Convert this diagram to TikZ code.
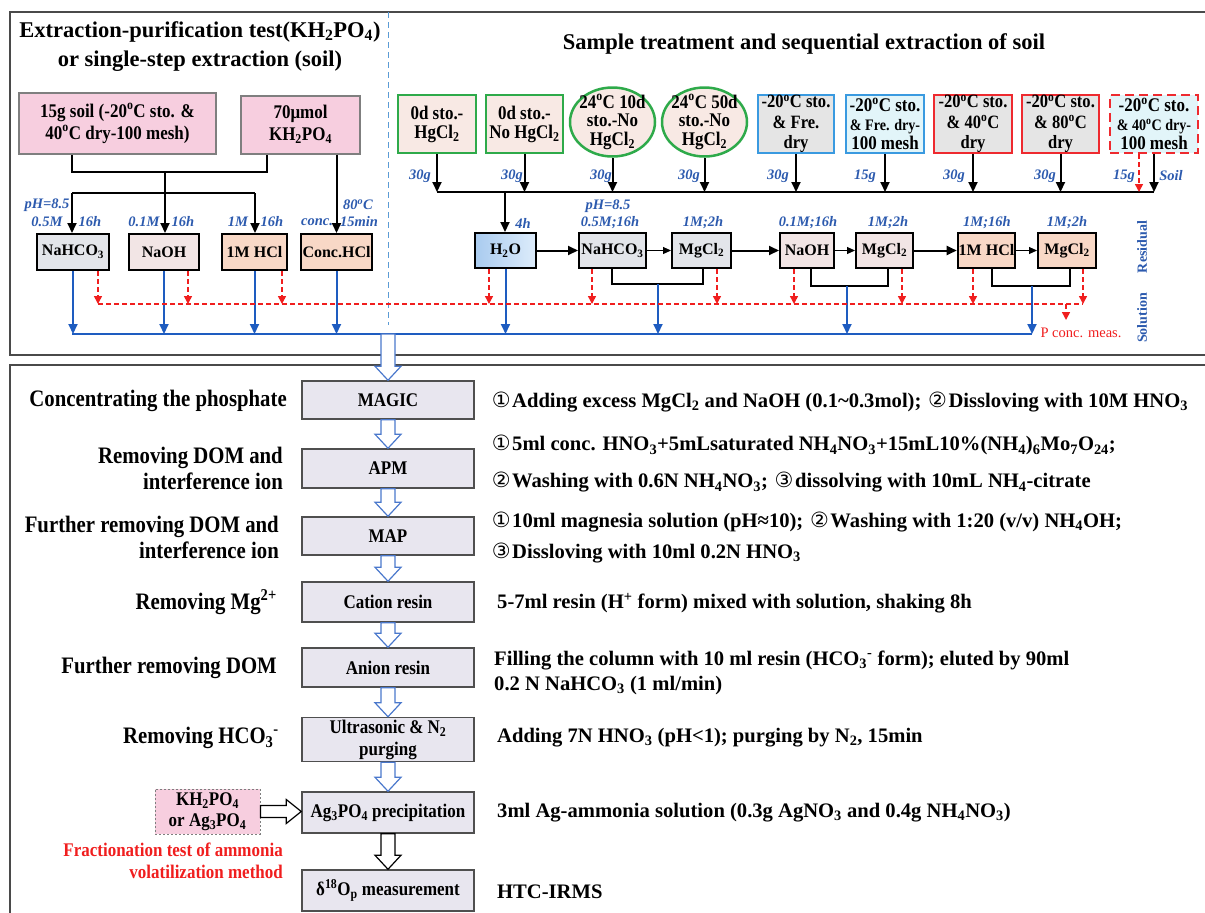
\documentclass[tikz,border=0pt]{standalone}
\usepackage{fontspec}
\setmainfont{Liberation Serif}
\newfontfamily\cnd{Liberation Serif}[FakeStretch=0.88]
\newfontfamily\symfont{DejaVu Sans}
\usetikzlibrary{arrows.meta,shapes.geometric,calc}
\newcommand\fsz[2]{\fontsize{#1}{#2}\selectfont}
\newcommand\dg{\textsuperscript{o}}
\newcommand\sbs[1]{\textsubscript{#1}}
\newcommand\cA{\makebox[22pt][c]{\symfont\mdseries\fsz{21}{20}①}}
\newcommand\cB{\makebox[22pt][c]{\symfont\mdseries\fsz{21}{20}②}}
\newcommand\cC{\makebox[22pt][c]{\symfont\mdseries\fsz{21}{20}③}}
\definecolor{pinkf}{HTML}{F7CEDF}
\definecolor{pinkd}{HTML}{7F7F7F}
\definecolor{gbord}{HTML}{2EAA4A}
\definecolor{gfill}{HTML}{F8E9E4}
\definecolor{bbord}{HTML}{3A9AE0}
\definecolor{grayf}{HTML}{E5E5E5}
\definecolor{cyanf}{HTML}{E2F5F9}
\definecolor{rbord}{HTML}{EE2A2F}
\definecolor{naf}{HTML}{E3E5EA}
\definecolor{ohf}{HTML}{F2E5E5}
\definecolor{hclf}{HTML}{F8D8C6}
\definecolor{h2oA}{HTML}{A9CBEF}
\definecolor{h2oB}{HTML}{DDECFB}
\definecolor{lblue}{HTML}{2C5AAE}
\definecolor{lineblue}{HTML}{1E5CC0}
\definecolor{redc}{HTML}{F01E1E}
\definecolor{panelc}{HTML}{4A4A4A}
\definecolor{boxf}{HTML}{E8E6EF}
\definecolor{boxd}{HTML}{4F4F4F}
\definecolor{harrow}{HTML}{4A78CC}
\definecolor{dashblue}{HTML}{5B9BD5}
\tikzset{
  panel/.style={draw=panelc, line width=1.6pt},
  titlet/.style={font=\bfseries\fsz{22.5}{24}, inner sep=0pt},
  pinkbox/.style={draw=pinkd, fill=pinkf, line width=2pt, align=center, inner sep=1pt, font=\cnd\bfseries\fsz{19.3}{22}},
  lrow/.style={draw=black, line width=2pt, minimum height=36pt, inner sep=1pt, font=\bfseries\fsz{16}{18}},
  mrow/.style={draw=black, line width=2pt, minimum height=35pt, inner sep=1pt, font=\bfseries\fsz{16}{18}},
  trbox/.style={line width=2.5pt, minimum height=58pt, inner sep=0pt, align=center, font=\cnd\bfseries\fsz{19.3}{19}},
  trbox3/.style={trbox, font=\cnd\bfseries\fsz{18.8}{20.5}},
  trell/.style={ellipse, line width=2.5pt, minimum width=85pt, minimum height=69pt, inner sep=-12pt, align=center, font=\cnd\bfseries\fsz{19.3}{18.5}},
  lbl/.style={font=\bfseries\itshape\fsz{14.5}{16}, text=lblue, inner sep=0pt},
  rotl/.style={font=\bfseries\fsz{14}{16}, text=lblue, inner sep=0pt, rotate=90},
  blk/.style={draw=black, line width=2pt},
  blkarr/.style={blk, -{Triangle[length=10pt,width=9pt]}},
  thinarr/.style={draw=black, line width=1pt, -{Triangle[length=8pt,width=7pt]}},
  blu/.style={draw=lineblue, line width=2pt},
  bluarr/.style={blu, -{Triangle[length=10pt,width=9pt]}},
  redln/.style={draw=redc, line width=1.5pt, dash pattern=on 5pt off 3pt},
  redarr/.style={redln, -{Triangle[length=8pt,width=8pt]}},
  botbox/.style={draw=boxd, fill=boxf, line width=1.5pt, minimum width=172pt, align=center, inner sep=1pt, font=\cnd\bfseries\fsz{19.3}{22}},
  leftl/.style={font=\cnd\bfseries\fsz{23.6}{26}, align=right, anchor=east, inner sep=0pt},
  rightt/.style={font=\bfseries\fsz{20.6}{25}, align=left, anchor=west, inner sep=0pt},
  hollowb/.style={draw=harrow, fill=white, line width=1.2pt},
  hollowk/.style={draw=black, fill=white, line width=1.2pt},
}
\newcommand\hdown[3]{%
  \draw[#1] let \p1=(#2), \p2=(#3) in
   (\x1-7pt,\y1) -- (\x1-7pt,\y2+14pt) -- (\x1-13pt,\y2+14pt) -- (\x1,\y2)
   -- (\x1+13pt,\y2+14pt) -- (\x1+7pt,\y2+14pt) -- (\x1+7pt,\y1) -- cycle;}
\newcommand\hright[3]{%
  \draw[#1] let \p1=(#2), \p2=(#3) in
   (\x1,\y1+6pt) -- (\x2-15pt,\y1+6pt) -- (\x2-15pt,\y1+12pt) -- (\x2,\y1)
   -- (\x2-15pt,\y1-12pt) -- (\x2-15pt,\y1-6pt) -- (\x1,\y1-6pt) -- cycle;}
\begin{document}
\begin{tikzpicture}[x=1pt,y=-1pt]
\useasboundingbox (0,0) rectangle (1205,913);
% ---------- panels ----------
\coordinate (p1) at (1212,12); \coordinate (p2) at (10,12);
\coordinate (p3) at (10,355); \coordinate (p4) at (1212,355);
\draw[panel] (p1) -- (p2) -- (p3) -- (p4);
\coordinate (q1) at (1212,365); \coordinate (q2) at (10,365); \coordinate (q3) at (10,920);
\draw[panel] (q1) -- (q2) -- (q3);
\coordinate (dv0) at (388,12); \coordinate (dv1) at (388,325);
\draw[draw=dashblue, line width=1pt, dash pattern=on 6pt off 4pt] (dv0) -- (dv1);
% ---------- titles ----------
\node[titlet] (t1) at (200,32) {Extraction-purification test(KH\sbs{2}PO\sbs{4})};
\node[titlet] (t2) at (200,61) {or single-step extraction (soil)};
\node[titlet] (t3) at (804,44) {Sample treatment and sequential extraction of soil};
% ---------- top-left ----------
\node[pinkbox, minimum width=197pt, minimum height=61pt] (soil) at (117.5,123.5) {15g soil (-20\dg C sto. \&\\40\dg C dry-100 mesh)};
\node[pinkbox, minimum width=119pt, minimum height=58pt] (kh) at (300.5,124.5) {70μmol\\KH\sbs{2}PO\sbs{4}};
\node[lrow, fill=naf, minimum width=72pt] (nahco3L) at (73,252) {NaHCO\sbs{3}};
\node[lrow, fill=ohf, minimum width=70pt] (naohL) at (164,252) {NaOH};
\node[lrow, fill=hclf, minimum width=65pt] (hclL) at (254.5,252) {1M HCl};
\node[lrow, fill=hclf, minimum width=71pt] (conchcl) at (336.5,252) {Conc.HCl};
\coordinate (tl1) at (72,172); \coordinate (tl2) at (267,172);
\coordinate (tl3) at (165,172); \coordinate (tl4) at (165,193);
\coordinate (tl5) at (72,193); \coordinate (tl6) at (255,193);
\draw[blk] (soil.south -| tl1) -- (tl1) -- (tl2) -- (kh.south -| tl2);
\draw[blk] (tl3) -- (tl4);
\draw[blk] (tl5) -- (tl6);
\draw[blkarr] (tl5) -- (nahco3L.north -| tl5);
\draw[blkarr] (tl4) -- (naohL.north -| tl4);
\draw[blkarr] (tl6) -- (hclL.north -| tl6);
\draw[blkarr] (kh.south -| conchcl.north) -- (conchcl.north);
\node[lbl] (la1) at (47,205) {pH=8.5};
\node[lbl] (la2) at (47,222) {0.5M};
\node[lbl] (la3) at (90,222) {16h};
\node[lbl] (la4) at (144,222) {0.1M};
\node[lbl] (la5) at (183,222) {16h};
\node[lbl] (la6) at (238,222) {1M};
\node[lbl] (la7) at (272,222) {16h};
\node[lbl] (la8) at (358,205) {80\dg C};
\node[lbl] (la9) at (317,222) {conc.};
\node[lbl] (la10) at (359,222) {15min};
% ---------- top-right sources ----------
\node[trbox, draw=gbord, fill=gfill, minimum width=78pt] (b1) at (437,124) {0d sto.-\\HgCl\sbs{2}};
\node[trbox, draw=gbord, fill=gfill, minimum width=77pt] (b2) at (524.5,124) {0d sto.-\\No HgCl\sbs{2}};
\node[trell, draw=gbord, fill=gfill] (e1) at (612.5,122) {24\dg C 10d\\sto.-No\\HgCl\sbs{2}};
\node[trell, draw=gbord, fill=gfill] (e2) at (704.5,122) {24\dg C 50d\\sto.-No\\HgCl\sbs{2}};
\node[trbox3, draw=bbord, fill=grayf, minimum width=76pt] (b5) at (796,124) {-20\dg C sto.\\\& Fre.\\dry};
\node[trbox, draw=bbord, fill=cyanf, minimum width=78pt] (b6) at (885,124) {-20\dg C sto.\\{\fsz{16}{19}\& Fre. dry-}\\100 mesh};
\node[trbox3, draw=rbord, fill=grayf, minimum width=78pt] (b7) at (973,124) {-20\dg C sto.\\\& 40\dg C\\dry};
\node[trbox3, draw=rbord, fill=grayf, minimum width=77pt] (b8) at (1060.5,124) {-20\dg C sto.\\\& 80\dg C\\dry};
\node[trbox, draw=rbord, fill=cyanf, dash pattern=on 9pt off 5pt, minimum width=88pt] (b9) at (1154,124) {-20\dg C sto.\\{\fsz{16}{19}\& 40\dg C dry-}\\100 mesh};
\coordinate (h0) at (437,192); \coordinate (h1) at (1154,192);
\coordinate (h9r) at (1139,192); \coordinate (h2) at (505,192);
\draw[blk] (h0) -- (h1);
\foreach \n in {b1,b2,e1,e2,b5,b6,b7,b8}{\draw[blkarr] (\n.south) -- (\n.south |- h0);}
\draw[redarr] (h9r |- b9.south) -- (h9r);
\draw[blkarr] (b9.south) -- (h1);
\node[lbl] (g1) at (420,176) {30g};
\node[lbl] (g2) at (512,176) {30g};
\node[lbl] (g3) at (601,176) {30g};
\node[lbl] (g4) at (689,176) {30g};
\node[lbl] (g5) at (778,176) {30g};
\node[lbl] (g6) at (865,176) {15g};
\node[lbl] (g7) at (954,176) {30g};
\node[lbl] (g8) at (1045,176) {30g};
\node[lbl] (g9) at (1124,176) {15g};
\node[lbl] (g10) at (1171,176) {Soil};
% ---------- middle row ----------
\node[mrow, left color=h2oA, right color=h2oB, minimum width=61pt] (h2o) at (505.5,250.5) {H\sbs{2}O};
\node[mrow, fill=naf, minimum width=67pt] (nahco3R) at (612.5,250.5) {NaHCO\sbs{3}};
\node[mrow, fill=naf, minimum width=59pt] (mgcl1) at (701.5,250.5) {MgCl\sbs{2}};
\node[mrow, fill=ohf, minimum width=54pt] (naohR) at (807,250.5) {NaOH};
\node[mrow, fill=ohf, minimum width=57pt] (mgcl2) at (884.5,250.5) {MgCl\sbs{2}};
\node[mrow, fill=hclf, minimum width=57pt] (hclR) at (986.5,250.5) {1M HCl};
\node[mrow, fill=hclf, minimum width=58pt] (mgcl3) at (1067,250.5) {MgCl\sbs{2}};
\draw[blkarr] (h2) -- (h2 |- h2o.north);
\draw[blkarr] (h2o) -- (nahco3R);
\draw[thinarr] (nahco3R) -- (mgcl1);
\draw[blkarr] (mgcl1) -- (naohR);
\draw[thinarr] (naohR) -- (mgcl2);
\draw[blkarr] (mgcl2) -- (hclR);
\draw[thinarr] (hclR) -- (mgcl3);
\node[lbl] (lm1) at (523,223) {4h};
\node[lbl] (lm2) at (608,206) {pH=8.5};
\node[lbl] (lm3) at (610,223) {0.5M;16h};
\node[lbl] (lm4) at (703,223) {1M;2h};
\node[lbl] (lm5) at (808,223) {0.1M;16h};
\node[lbl] (lm6) at (888,223) {1M;2h};
\node[lbl] (lm7) at (987,223) {1M;16h};
\node[lbl] (lm8) at (1067,223) {1M;2h};
% brackets
\coordinate (k1) at (612,284); \coordinate (k2) at (703,284);
\coordinate (k3) at (811,286); \coordinate (k4) at (888,286);
\coordinate (k5) at (992,286); \coordinate (k6) at (1070,286);
\draw[blk] (k1 |- nahco3R.south) -- (k1) -- (k2) -- (k2 |- mgcl1.south);
\draw[blk] (k3 |- naohR.south) -- (k3) -- (k4) -- (k4 |- mgcl2.south);
\draw[blk] (k5 |- hclR.south) -- (k5) -- (k6) -- (k6 |- mgcl3.south);
% ---------- solution (blue) ----------
\coordinate (bl0) at (72,334); \coordinate (bl1) at (1032,334);
\draw[blu] (bl0) -- (bl1);
\foreach \n in {nahco3L,naohL,hclL,conchcl,h2o}{\draw[bluarr] (\n.south) -- (\n.south |- bl0);}
\coordinate (m1) at (658,284); \coordinate (m2) at (847,286); \coordinate (m3) at (1032,286);
\draw[bluarr] (m1) -- (m1 |- bl0);
\draw[bluarr] (m2) -- (m2 |- bl0);
\draw[bluarr] (m3) -- (bl1);
% ---------- P conc (red) ----------
\coordinate (rd0) at (98,304); \coordinate (rd1) at (1083,304);
\draw[redln] (rd0) -- (rd1);
\coordinate (r1) at (98,304); \coordinate (r2) at (188,304); \coordinate (r3) at (282,304);
\draw[redarr] (r1 |- nahco3L.south) -- (r1);
\draw[redarr] (r2 |- naohL.south) -- (r2);
\draw[redarr] (r3 |- hclL.south) -- (r3);
\coordinate (s1) at (489,304); \coordinate (s2) at (592,304); \coordinate (s3) at (717,304);
\coordinate (s4) at (794,304); \coordinate (s5) at (902,304); \coordinate (s6) at (973,304);
\coordinate (s7) at (1083,304);
\draw[redarr] (s1 |- h2o.south) -- (s1);
\draw[redarr] (s2 |- nahco3R.south) -- (s2);
\draw[redarr] (s3 |- mgcl1.south) -- (s3);
\draw[redarr] (s4 |- naohR.south) -- (s4);
\draw[redarr] (s5 |- mgcl2.south) -- (s5);
\draw[redarr] (s6 |- hclR.south) -- (s6);
\draw[redarr] (s7 |- mgcl3.south) -- (s7);
\coordinate (pc0) at (1066,304); \coordinate (pc1) at (1066,320);
\draw[redarr] (pc0) -- (pc1);
\node[font=\fsz{14.5}{16}, text=redc, inner sep=0pt] (pconc) at (1081,333) {P conc. meas.};
\node[rotl] (resid) at (1142,247) {Residual};
\node[rotl] (soln) at (1142,318) {Solution};
% ---------- bottom panel ----------
\node[botbox, minimum height=38pt] (magic) at (388,400) {MAGIC};
\node[botbox, minimum height=39pt] (apm) at (388,468.5) {APM};
\node[botbox, minimum height=38pt] (map) at (388,536) {MAP};
\node[botbox, minimum height=40pt] (cation) at (388,602) {Cation resin};
\node[botbox, minimum height=39pt] (anion) at (388,667.5) {Anion resin};
\node[botbox, minimum height=44pt] (ultra) at (388,739.5) {Ultrasonic \& N\sbs{2}\\purging};
\node[botbox, minimum height=41pt] (agpo) at (388,812.5) {Ag\sbs{3}PO\sbs{4} precipitation};
\node[botbox, minimum height=41pt] (delta) at (388,890.5) {δ\textsuperscript{18}O\sbs{p} measurement};
\node[draw=pinkd, fill=pinkf, line width=1pt, dash pattern=on 2pt off 2pt, minimum width=105pt, minimum height=45pt, align=center, inner sep=1pt, font=\cnd\bfseries\fsz{19.3}{21}] (khb) at (207.5,811.5) {KH\sbs{2}PO\sbs{4}\\or Ag\sbs{3}PO\sbs{4}};
\coordinate (ha0) at (388,334);
\hdown{hollowb}{ha0}{magic.north}
\hdown{hollowb}{magic.south}{apm.north}
\hdown{hollowb}{apm.south}{map.north}
\hdown{hollowb}{map.south}{cation.north}
\hdown{hollowb}{cation.south}{anion.north}
\hdown{hollowb}{anion.south}{ultra.north}
\hdown{hollowb}{ultra.south}{agpo.north}
\hdown{hollowk}{agpo.south}{delta.north}
\hright{hollowk}{khb.east}{agpo.west}
\node[leftl] (l1) at (287,401) {Concentrating the phosphate};
\node[leftl] (l2) at (283,468) {Removing DOM and\\interference ion};
\node[leftl] (l3) at (279,537.5) {Further removing DOM and\\interference ion};
\node[leftl] (l4) at (277,602) {Removing Mg\textsuperscript{2+}};
\node[leftl] (l5) at (277,668) {Further removing DOM};
\node[leftl] (l6) at (279,738) {Removing HCO\sbs{3}\textsuperscript{-}};
\node[font=\cnd\bfseries\fsz{19.3}{22}, text=redc, align=right, anchor=east, inner sep=0pt] (l7) at (283,861) {Fractionation test of ammonia\\volatilization method};
\node[rightt] (r1t) at (490,402) {\cA Adding excess MgCl\sbs{2} and NaOH (0.1\textasciitilde 0.3mol); \cB Dissloving with 10M HNO\sbs{3}};
\node[rightt] (r2t) at (490,464) {\cA 5ml conc. HNO\sbs{3}+5mLsaturated NH\sbs{4}NO\sbs{3}+15mL10\%(NH\sbs{4})\sbs{6}Mo\sbs{7}O\sbs{24};\\[12pt]\cB Washing with 0.6N NH\sbs{4}NO\sbs{3}; \cC dissolving with 10mL NH\sbs{4}-citrate};
\node[rightt] (r3t) at (490,537.5) {\cA 10ml magnesia solution (pH≈10); \cB Washing with 1:20 (v/v) NH\sbs{4}OH;\\[6pt]\cC Dissloving with 10ml 0.2N HNO\sbs{3}};
\node[rightt] (r4t) at (497,603) {5-7ml resin (H\textsuperscript{+} form) mixed with solution, shaking 8h};
\node[rightt] (r5t) at (494,672.5) {Filling the column with 10 ml resin (HCO\sbs{3}\textsuperscript{-} form); eluted by 90ml\\0.2 N NaHCO\sbs{3} (1 ml/min)};
\node[rightt] (r6t) at (497,738) {Adding 7N HNO\sbs{3} (pH<1); purging by N\sbs{2}, 15min};
\node[rightt] (r7t) at (497,813) {3ml Ag-ammonia solution (0.3g AgNO\sbs{3} and 0.4g NH\sbs{4}NO\sbs{3})};
\node[rightt] (r8t) at (497,892) {HTC-IRMS};
\end{tikzpicture}
\end{document}
